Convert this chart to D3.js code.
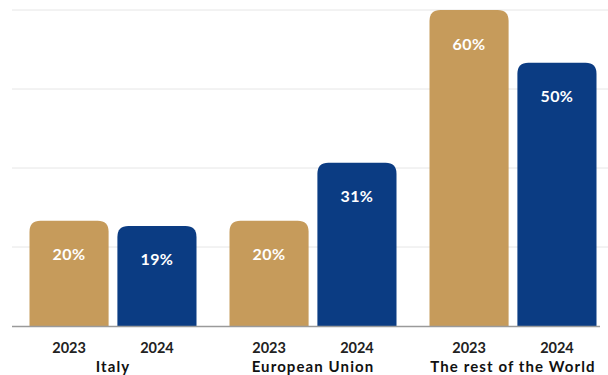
<!DOCTYPE html>
<html>
<head>
<meta charset="utf-8">
<script src="https://cdn.jsdelivr.net/npm/d3@7"></script>
<style>
  body { margin: 0; background: #fff; }
  text { font-family: Lato, 'Open Sans', sans-serif; }
</style>
</head>
<body>
<div id="chart"></div>
<script>
const regions = ['Italy', 'European Union', 'The rest of the World']
const years = ['2023', '2024']
const share2023 = [20, 20, 60]
const share2024 = [19, 31, 50]
const gridTicks = [15, 30, 45, 60]

const width = 608
const height = 375
const colors = { 2023: '#C69B5B', 2024: '#0B3C83' }

const data = regions.map((r, i) => ({
  region: r,
  values: [
    { year: '2023', value: share2023[i] },
    { year: '2024', value: share2024[i] }
  ]
}))

const svg = d3.select('#chart')
  .append('svg')
  .attr('width', width)
  .attr('height', height)

const x0 = d3.scaleBand()
  .domain(regions)
  .range([13, 613])

const x1 = d3.scaleBand()
  .domain(years)
  .range([16.5, 183.5])
  .paddingInner(0.1)

const y = d3.scaleLinear()
  .domain([0, 60])
  .range([326, 10])

// grid
svg.selectAll('.grid')
  .data(gridTicks)
  .enter().append('line')
  .attr('x1', 12)
  .attr('x2', width)
  .attr('y1', d => y(d))
  .attr('y2', d => y(d))
  .attr('stroke', '#e6e6e6')
  .attr('stroke-width', 1)

function topRounded (x, yTop, w, h, r) {
  return `M${x},${yTop + h}V${yTop + r}Q${x},${yTop} ${x + r},${yTop}H${x + w - r}Q${x + w},${yTop} ${x + w},${yTop + r}V${yTop + h}Z`
}

const groups = svg.selectAll('.group')
  .data(data)
  .enter().append('g')
  .attr('transform', d => `translate(${x0(d.region)},0)`)

groups.selectAll('path')
  .data(d => d.values)
  .enter().append('path')
  .attr('fill', d => colors[d.year])
  .attr('d', d => topRounded(x1(d.year), y(d.value), x1.bandwidth(), y(0) - y(d.value), 11))

groups.selectAll('.val')
  .data(d => d.values)
  .enter().append('text')
  .attr('x', d => x1(d.year) + x1.bandwidth() / 2)
  .attr('y', d => y(d.value) + 33)
  .attr('text-anchor', 'middle')
  .attr('dominant-baseline', 'central')
  .attr('fill', '#fff')
  .attr('font-size', '16px')
  .attr('font-weight', 'bold')
  .attr('letter-spacing', '0.4px')
  .text(d => `${d.value}%`)

groups.selectAll('.year')
  .data(d => d.values)
  .enter().append('text')
  .attr('x', d => x1(d.year) + x1.bandwidth() / 2)
  .attr('y', 347)
  .attr('text-anchor', 'middle')
  .attr('dominant-baseline', 'central')
  .attr('fill', '#222')
  .attr('font-size', '14.5px')
  .attr('font-weight', 'bold')
  .text(d => d.year)

groups.append('text')
  .attr('x', x0.bandwidth() / 2)
  .attr('y', 366)
  .attr('text-anchor', 'middle')
  .attr('dominant-baseline', 'central')
  .attr('fill', '#111')
  .attr('font-size', '15px')
  .attr('font-weight', 'bold')
  .attr('letter-spacing', '1.1px')
  .text(d => d.region)

// baseline
svg.append('line')
  .attr('x1', 12)
  .attr('x2', 600)
  .attr('y1', y(0) + 0.5)
  .attr('y2', y(0) + 0.5)
  .attr('stroke', '#9a9a9a')
  .attr('stroke-width', 1.5)
</script>
</body>
</html>
